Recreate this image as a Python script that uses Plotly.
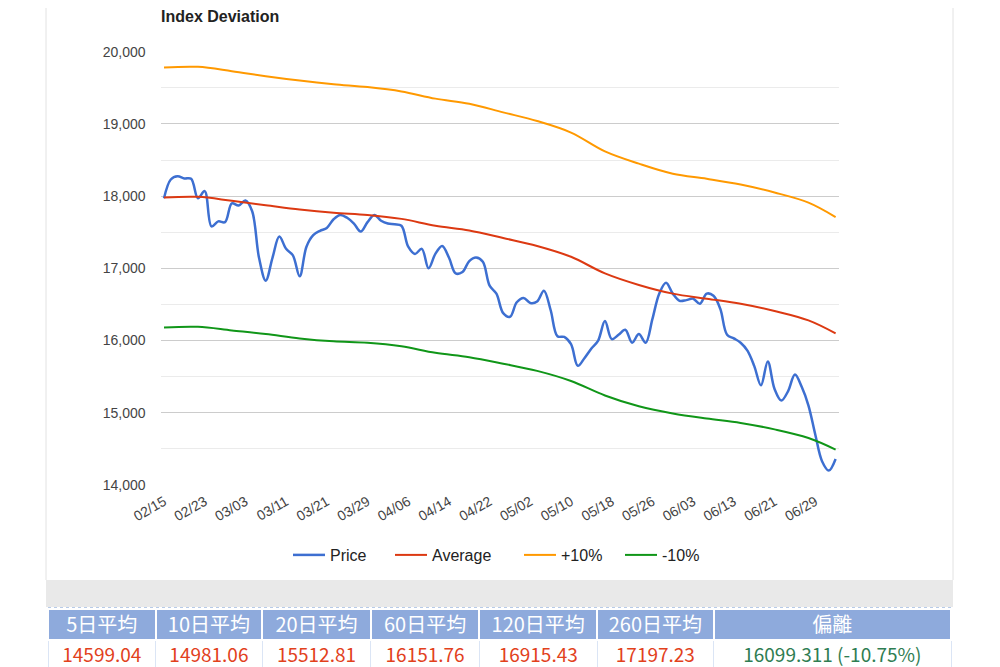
import pandas as pd
import plotly.graph_objects as go

# ---------------- data ----------------
dates = list(pd.bdate_range("2022-02-15", "2022-07-04").strftime("%m/%d"))

price = [17970, 18230, 18275, 18245, 18240, 17970, 18070, 17580, 17650, 17640,
         17900, 17870, 17940, 17790, 17150, 16830, 17150, 17440, 17270, 17180,
         16890, 17300, 17460, 17520, 17560, 17680, 17740, 17700, 17620, 17510,
         17640, 17740, 17660, 17620, 17610, 17590, 17300, 17200, 17270, 17000,
         17200, 17310, 17150, 16930, 16950, 17100, 17150, 17090, 16760, 16650,
         16380, 16330, 16530, 16590, 16520, 16540, 16690, 16420, 16060, 16050,
         15950, 15650, 15760, 15890, 16000, 16270, 16020, 16080, 16150, 15970,
         16090, 15970, 16300, 16650, 16800, 16650, 16550, 16560, 16580, 16510,
         16650, 16620, 16440, 16080, 16030, 15970, 15860, 15650, 15380, 15710,
         15330, 15170, 15300, 15530, 15360, 15100, 14700, 14330, 14200, 14360]

band_idx = [0, 5, 10, 15, 20, 25, 30, 35, 40, 45, 50, 55, 60, 65, 70, 75, 80, 85, 90, 95, 99]
average = [17980, 17990, 17935, 17875, 17815, 17770, 17740, 17685, 17590, 17525, 17420,
           17310, 17160, 16930, 16770, 16650, 16580, 16510, 16410, 16280, 16100]
upper = [19780, 19790, 19730, 19660, 19600, 19550, 19510, 19450, 19350, 19280, 19160,
         19040, 18880, 18620, 18450, 18310, 18240, 18160, 18050, 17910, 17710]
lower = [16180, 16190, 16140, 16090, 16030, 15990, 15970, 15920, 15830, 15770, 15680,
         15580, 15440, 15240, 15090, 14990, 14920, 14860, 14770, 14650, 14490]

y_ticks = [14000, 15000, 16000, 17000, 18000, 19000, 20000]
x_tick_labels = dates[::6]

table_headers = ["5日平均", "10日平均", "20日平均", "60日平均", "120日平均", "260日平均", "偏離"]
table_values = ["14599.04", "14981.06", "15512.81", "16151.76", "16915.43", "17197.23",
                "16099.311 (-10.75%)"]

# ---------------- figure ----------------
# the page body has an 8px margin, so the figure is laid out in page pixels minus 8
OFF = 8
W, H = 1000 - OFF, 667 - OFF
def px(p):  # page pixel x -> paper x
    return (p - OFF) / W
def py(p):  # page pixel y -> paper y
    return 1 - (p - OFF) / H

band_dates = [dates[i] for i in band_idx]
font_main = "Arial, Liberation Sans, sans-serif"

fig = go.Figure()
fig.add_trace(go.Scatter(x=dates, y=price, name="Price", mode="lines", legend="legend",
                         line=dict(color="#3d6fd1", width=2.5, shape="spline", smoothing=1.0)))
fig.add_trace(go.Scatter(x=band_dates, y=average, name="Average", mode="lines", legend="legend2",
                         line=dict(color="#dc3912", width=2, shape="spline", smoothing=1.0)))
fig.add_trace(go.Scatter(x=band_dates, y=upper, name="+10%", mode="lines", legend="legend3",
                         line=dict(color="#ff9900", width=2, shape="spline", smoothing=1.0)))
fig.add_trace(go.Scatter(x=band_dates, y=lower, name="-10%", mode="lines", legend="legend4",
                         line=dict(color="#109618", width=2, shape="spline", smoothing=1.0)))

col_w = [107, 106, 108, 108, 117, 116, 236]
fig.add_trace(go.Table(
    domain=dict(x=[px(48), px(951)], y=[0, py(609)]),
    columnwidth=col_w,
    header=dict(values=table_headers, fill_color="#8eaadc",
                line=dict(color="#ffffff", width=2),
                font=dict(family="Noto Sans CJK TC", size=20, color="white"),
                align="center", height=31),
    cells=dict(values=[[v] for v in table_values], fill_color="#ffffff",
               line=dict(color="#dbe5f5", width=1),
               font=dict(family="Noto Sans CJK TC", size=19,
                         color=["#e2411c"] * 6 + ["#2f7d52"]),
               align="center", height=29),
))

def legend_at(line_start_px):
    return dict(orientation="h", x=px(line_start_px - 8), xanchor="left",
                y=py(555), yanchor="middle", font=dict(size=16, color="#222"),
                itemwidth=32, bgcolor="rgba(0,0,0,0)")

fig.update_layout(
    width=W, height=H,
    margin=dict(l=0, r=0, t=0, b=0, autoexpand=False),
    paper_bgcolor="white", plot_bgcolor="white",
    font=dict(family=font_main, color="#444"),
    showlegend=True,
    legend=legend_at(296), legend2=legend_at(398),
    legend3=legend_at(527), legend4=legend_at(628),
    xaxis=dict(domain=[px(160.6), px(839)], type="category", range=[-0.5, len(dates) - 0.5],
               tickmode="array", tickvals=x_tick_labels, ticktext=x_tick_labels,
               tickangle=-30, tickfont=dict(size=14, color="#444"), automargin=False,
               ticklabelstandoff=5,
               showgrid=False, showline=False, zeroline=False, ticks=""),
    yaxis=dict(domain=[py(485), py(51.7)], range=[14000, 20000],
               tickmode="array", tickvals=y_ticks, tickformat=",d",
               tickfont=dict(size=14, color="#444"), automargin=False,
               gridcolor="#cccccc", gridwidth=1, zeroline=False, showline=False,
               ticks="", ticklabelstandoff=14,
               minor=dict(dtick=500, tick0=14000, showgrid=True, gridcolor="#ebebeb", gridwidth=1)),
)

fig.add_annotation(text="<b>Index Deviation</b>", xref="paper", yref="paper",
                   x=px(159), y=py(17), xanchor="left", yanchor="middle", showarrow=False,
                   font=dict(size=16, color="#222", family=font_main))

# page frame decorations
fig.add_shape(type="line", xref="paper", yref="paper", x0=px(46), x1=px(46), y0=py(580), y1=1,
              line=dict(color="#e2e2e2", width=1), layer="below")
fig.add_shape(type="line", xref="paper", yref="paper", x0=px(953), x1=px(953), y0=py(580), y1=1,
              line=dict(color="#e2e2e2", width=1), layer="below")
fig.add_shape(type="rect", xref="paper", yref="paper", x0=px(46), x1=px(953), y0=py(607), y1=py(580),
              fillcolor="#e9e9e9", line=dict(width=0), layer="below")
fig.add_shape(type="line", xref="paper", yref="paper", x0=px(48), x1=px(951), y0=py(607.5), y1=py(607.5),
              line=dict(color="#b8cbe8", width=1, dash="dot"), layer="above")

fig.write_html("out.html")
